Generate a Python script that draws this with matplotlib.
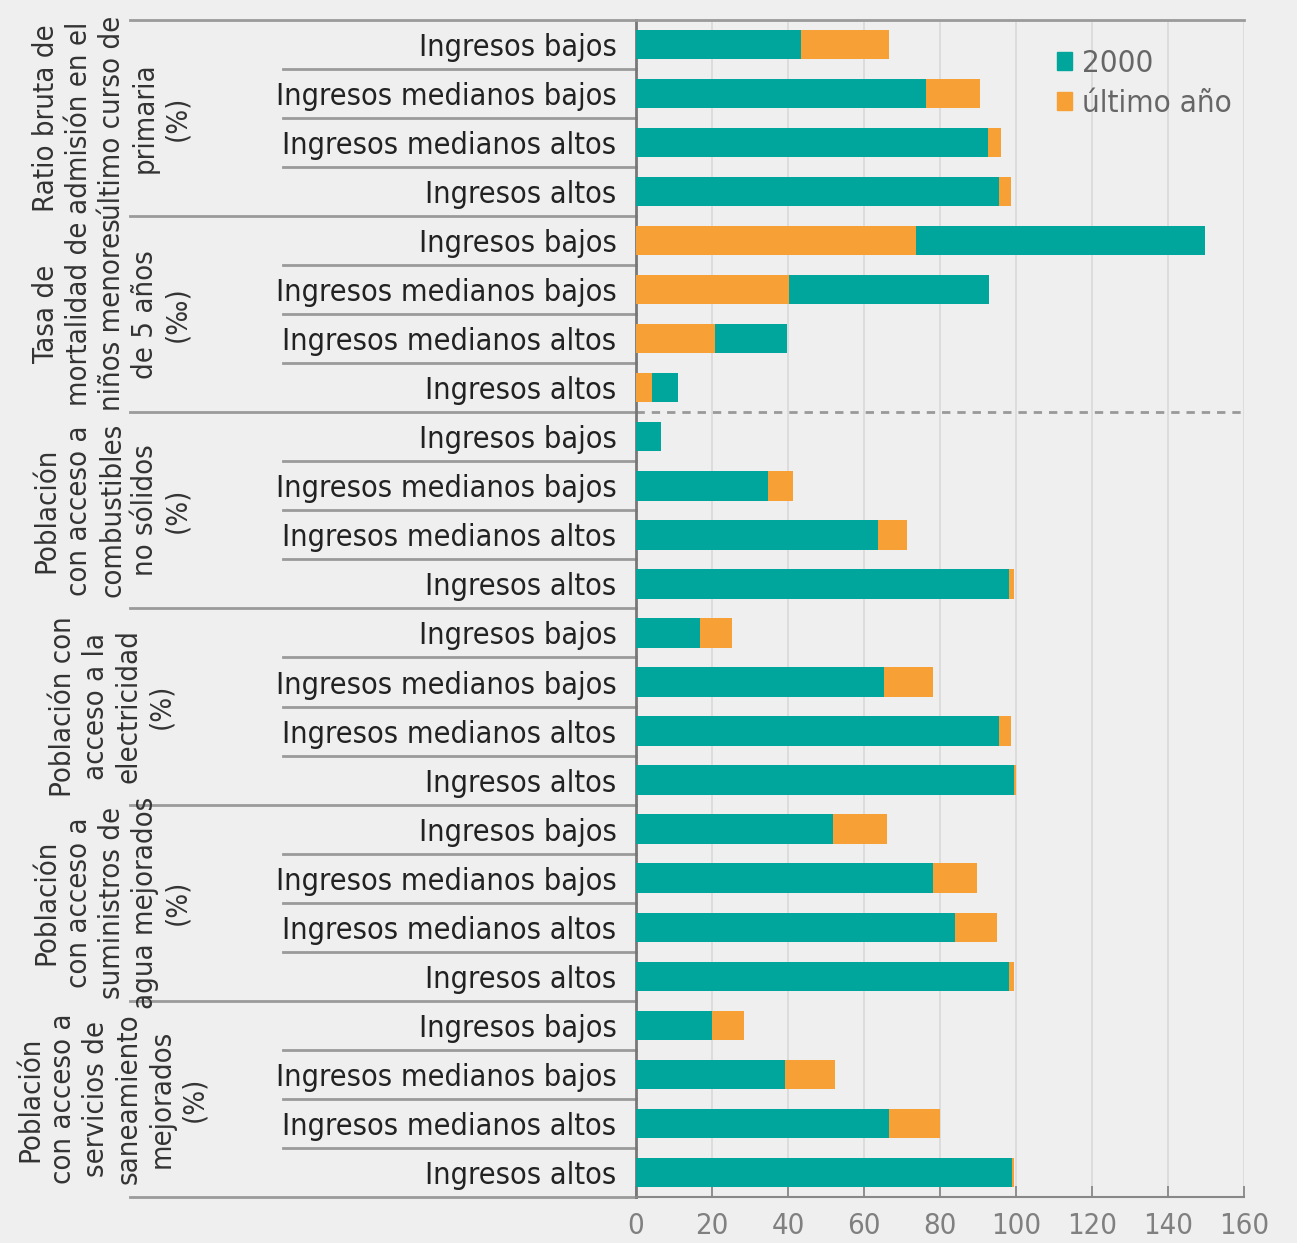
import numpy as np
import matplotlib.pyplot as plt
from matplotlib.patches import Patch
import matplotlib.transforms as mtransforms
from matplotlib import font_manager

grupos = ['Ratio bruta de\nadmisión en el\núltimo curso de\nprimaria\n(%)',
          'Tasa de\nmortalidad de\nniños menores\nde 5 años\n(‰)',
          'Población\ncon acceso a\ncombustibles\nno sólidos\n(%)',
          'Población con\nacceso a la\nelectricidad\n(%)',
          'Población\ncon acceso a\nsuministros de\nagua mejorados\n(%)',
          'Población\ncon acceso a\nservicios de\nsaneamiento\nmejorados\n(%)']
niveles = ['Ingresos bajos', 'Ingresos medianos bajos',
           'Ingresos medianos altos', 'Ingresos altos']

v2000 = [43.4, 76.3, 92.6, 95.5,
         149.7, 92.9, 39.7, 11.0,
         6.6, 34.7, 63.7, 98.2,
         16.8, 65.3, 95.5, 99.5,
         51.8, 78.2, 83.9, 98.2,
         20.0, 39.2, 66.6, 99.0]
vultimo = [66.6, 90.5, 96.0, 98.7,
           73.7, 40.3, 20.8, 4.2,
           6.6, 41.3, 71.3, 99.5,
           25.3, 78.2, 98.7, 100.0,
           66.0, 89.7, 95.0, 99.5,
           28.4, 52.4, 80.0, 99.5]

# fuente estrecha si existe
fuentes = {(f.name, str(f.stretch)) for f in font_manager.fontManager.ttflist}
estrecha = False
if any(n == 'Liberation Sans Narrow' for n, s in fuentes):
    plt.rcParams['font.family'] = ['Liberation Sans Narrow', 'DejaVu Sans']
    estrecha = True
elif any(n == 'DejaVu Sans' and 'condensed' in s for n, s in fuentes):
    plt.rcParams['font.family'] = ['DejaVu Sans']
    plt.rcParams['font.stretch'] = 'condensed'
    estrecha = True
else:
    plt.rcParams['font.family'] = ['DejaVu Sans']
esc = 1.0 if estrecha else 0.86

teal = '#00a69c'
orange = '#f7a035'
bg = '#efefef'
linec = '#9a9a9a'

fig = plt.figure(figsize=(12.97, 12.43), dpi=100, facecolor=bg)
ax = fig.add_axes([0.4904, 0.037, 0.4687, 0.947])
ax.set_facecolor(bg)

y = np.arange(len(v2000))
a = np.array(v2000)
b = np.array(vultimo)
grande = np.maximum(a, b)
chico = np.minimum(a, b)
col_grande = [orange if x < z else teal for x, z in zip(a, b)]
col_chico = [teal if x <= z else orange for x, z in zip(a, b)]
ax.barh(y, grande, height=0.6, color=col_grande, zorder=3)
ax.barh(y, chico, height=0.6, color=col_chico, zorder=4)

ax.set_xlim(0, 160)
ax.set_ylim(len(y) - 0.5, -0.5)
ax.set_xticks(np.arange(0, 161, 20))
ax.xaxis.grid(True, color='#dadada', linewidth=1.3, zorder=0)
ax.set_yticks(y)
ax.set_yticklabels(niveles * len(grupos), fontsize=22 * esc, color='#222222')
ax.tick_params(axis='y', length=0, pad=14)
ax.tick_params(axis='x', direction='in', length=8, width=1.3, color='#888888',
               labelsize=21 * esc, labelcolor='#808080', pad=11)

ax.spines['right'].set_visible(False)
ax.spines['left'].set_color('#777777')
ax.spines['left'].set_linewidth(2)
ax.spines['bottom'].set_color('#888888')
ax.spines['bottom'].set_linewidth(1.5)
ax.spines['top'].set_color(linec)
ax.spines['top'].set_linewidth(2)

tr = mtransforms.blended_transform_factory(ax.transAxes, ax.transData)
n = len(niveles)
for g, nombre in enumerate(grupos):
    top = g * n - 0.5
    ax.plot([-0.832, 0], [top, top], color=linec, lw=2, transform=tr, clip_on=False)
    for k in range(1, n):
        yy = top + k
        ax.plot([-0.58, 0], [yy, yy], color=linec, lw=2, transform=tr, clip_on=False)
    ax.text(-0.862, top + n / 2, nombre, transform=tr, rotation=90,
            ha='center', va='center', multialignment='center',
            fontsize=21 * esc, color='#333333', linespacing=1.22)
bot = len(y) - 0.5
ax.plot([-0.832, 0], [bot, bot], color=linec, lw=2, transform=tr, clip_on=False)
ax.axhline(2 * n - 0.5, color='#999999', lw=2, ls=(0, (3, 2.5)), zorder=2)

handles = [Patch(color=teal, label='2000'), Patch(color=orange, label='último año')]
ax.legend(handles=handles, loc='upper right', bbox_to_anchor=(1.0, 0.986),
          frameon=False, fontsize=22.5 * esc, handlelength=0.5, handleheight=0.5,
          handletextpad=0.3, labelspacing=0.35, labelcolor='#666666',
          borderaxespad=0.0)

fig.savefig('out.png', dpi=100, facecolor=bg)
